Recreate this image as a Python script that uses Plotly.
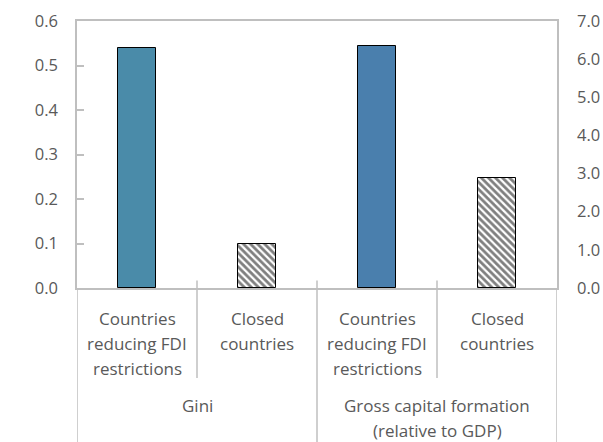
import plotly.graph_objects as go

# Data
groups = ["Gini", "Gross capital formation<br>(relative to GDP)"]
categories = ["Countries<br>reducing FDI<br>restrictions", "Closed<br>countries"]
gini_values = [0.54, 0.10]          # left axis
gcf_values = [6.35, 2.88]           # right axis
left_ticks = [0.0, 0.1, 0.2, 0.3, 0.4, 0.5, 0.6]
right_ticks = [0.0, 1.0, 2.0, 3.0, 4.0, 5.0, 6.0, 7.0]

FONT = "Open Sans"
TEXT = "#595959"
GRID = "#BFBFBF"
BAR_W = 0.32
LABEL_SIZE = 17
LINE_H = 25  # px between label lines

HATCH = dict(shape="\\", fgcolor="black", bgcolor="white", size=5, solidity=0.55)

fig = go.Figure()

# Gini bars (positions 0, 1)
fig.add_trace(go.Bar(
    x=[0], y=[gini_values[0]], width=BAR_W, yaxis="y",
    marker=dict(color="#4A8BA9", line=dict(color="black", width=1)),
    showlegend=False, hoverinfo="y",
))
fig.add_trace(go.Bar(
    x=[1], y=[gini_values[1]], width=BAR_W, yaxis="y",
    marker=dict(color="white", line=dict(color="black", width=1), pattern=HATCH),
    showlegend=False, hoverinfo="y",
))
# Gross capital formation bars (positions 2, 3)
fig.add_trace(go.Bar(
    x=[2], y=[gcf_values[0]], width=BAR_W, yaxis="y2",
    marker=dict(color="#4A7FAD", line=dict(color="black", width=1)),
    showlegend=False, hoverinfo="y",
))
fig.add_trace(go.Bar(
    x=[3], y=[gcf_values[1]], width=BAR_W, yaxis="y2",
    marker=dict(color="white", line=dict(color="black", width=1), pattern=HATCH),
    showlegend=False, hoverinfo="y",
))


def label_lines(xpos, text, first_center):
    """One annotation per line so the line spacing is fixed."""
    out = []
    for k, line in enumerate(text.split("<br>")):
        out.append(dict(
            x=xpos, xref="x", y=0, yref="paper", yanchor="middle",
            yshift=-(first_center + k * LINE_H), text=line, showarrow=False,
            borderpad=0,
            font=dict(family=FONT, size=LABEL_SIZE, color=TEXT),
        ))
    return out


annotations = []
# Inner category labels
for gi in range(len(groups)):
    for ci, cat in enumerate(categories):
        annotations += label_lines(gi * 2 + ci, cat, 30)
# Group labels
for gi, g in enumerate(groups):
    annotations += label_lines(gi * 2 + 0.5, g, 117)

shapes = []
# Dividers between categories (short) and groups (full height)
for xpos in [0.5, 2.5]:
    shapes.append(dict(type="line", xref="x", yref="paper", x0=xpos, x1=xpos,
                       y0=0.028, y1=-0.337, line=dict(color=GRID, width=1.5)))
for xpos in [-0.5, 1.5, 3.5]:
    shapes.append(dict(type="line", xref="x", yref="paper", x0=xpos, x1=xpos,
                       y0=0.028 if xpos == 1.5 else 0, y1=-0.6,
                       line=dict(color=GRID, width=1.5)))

fig.update_layout(
    width=603, height=442,
    margin=dict(l=77, r=46, t=21, b=154, autoexpand=False),
    paper_bgcolor="white", plot_bgcolor="white",
    font=dict(family=FONT, size=LABEL_SIZE, color=TEXT),
    bargap=0,
    xaxis=dict(range=[-0.5, 3.5], showticklabels=False, showgrid=False,
               zeroline=False, showline=True, linecolor=GRID, linewidth=1.5,
               mirror=True, ticks="", automargin=False),
    yaxis=dict(range=[0, 0.6], tickvals=left_ticks, tickformat=".1f",
               showgrid=False, zeroline=False, showline=True, linecolor=GRID,
               linewidth=1.5, ticks="inside", ticklen=7, tickcolor=GRID,
               tickwidth=1.5, ticklabelstandoff=14, automargin=False,
               tickfont=dict(family=FONT, size=16.5, color=TEXT)),
    yaxis2=dict(range=[0, 7.0], tickvals=right_ticks, tickformat=".1f",
                overlaying="y", side="right", showgrid=False, zeroline=False,
                showline=True, linecolor=GRID, linewidth=1.5, ticks="",
                ticklabelstandoff=15, automargin=False,
                tickfont=dict(family=FONT, size=16.5, color=TEXT)),
    annotations=annotations,
    shapes=shapes,
)

fig.write_html("out.html")
